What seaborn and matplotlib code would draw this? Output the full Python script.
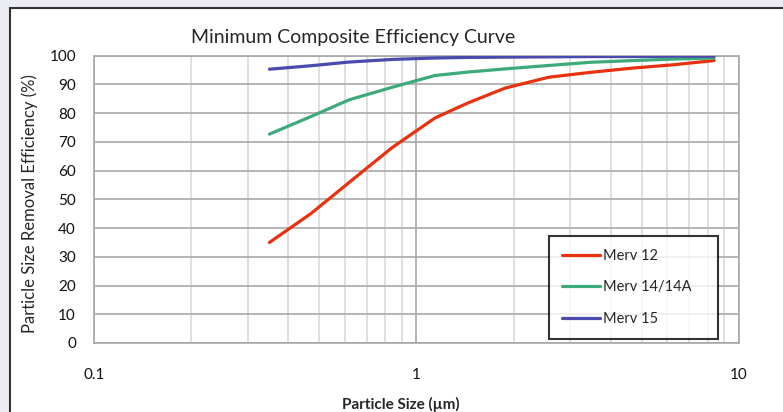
import matplotlib
matplotlib.use("Agg")
import matplotlib.pyplot as plt
import seaborn as sns
import pandas as pd
from matplotlib.patches import Rectangle
from matplotlib.ticker import FixedLocator, NullFormatter

# particle size bins (um) and efficiencies (%)
sizes = [0.35, 0.47, 0.62, 0.84, 1.14, 1.44, 1.88, 2.57, 3.46, 4.69, 6.20, 8.37]
merv12 = [35, 45, 56, 68, 78.3, 83.5, 88.7, 92.5, 94.2, 95.7, 96.8, 98.3]
merv14 = [72.7, 78.8, 84.7, 89, 93.1, 94.3, 95.4, 96.6, 97.7, 98.3, 98.8, 99.2]
merv15 = [95.3, 96.5, 97.8, 98.7, 99.2, 99.4, 99.5, 99.6, 99.7, 99.7, 99.8, 99.8]
series_names = ["Merv 12", "Merv 14/14A", "Merv 15"]
colors = ["#E8310F", "#3DAA7A", "#4A4AAE"]

df = pd.DataFrame({
    "size": sizes * 3,
    "eff": merv12 + merv14 + merv15,
    "series": [series_names[0]] * 12 + [series_names[1]] * 12 + [series_names[2]] * 12,
})

sns.set_style("white")
plt.rcParams["font.family"] = ["Lato", "DejaVu Sans"]

fig = plt.figure(figsize=(7.83, 4.12), dpi=100)
fig.patch.set_facecolor("#EBEBF4")
# white chart area with dark frame
fig.patches.append(Rectangle((10 / 783, -0.05), 1.0, 1 - 8 / 412 + 0.05,
                             transform=fig.transFigure, facecolor="white",
                             edgecolor="#333333", linewidth=1.5, zorder=-5))

ax = fig.add_axes([94 / 783, 1 - 343 / 412, 645 / 783, (343 - 55.7) / 412])
ax.set_facecolor("white")
ax.set_zorder(2)

sns.lineplot(data=df, x="size", y="eff", hue="series", palette=colors,
             linewidth=2.3, ax=ax, zorder=3)

ax.set_xscale("log")
ax.set_xlim(0.1, 10)
ax.set_ylim(0, 100)
ax.set_yticks(range(0, 101, 10))
ax.xaxis.set_major_locator(FixedLocator([0.1, 1, 10]))
ax.xaxis.set_minor_locator(FixedLocator([m * d for d in (0.1, 1) for m in range(2, 10)]))
ax.xaxis.set_minor_formatter(NullFormatter())
ax.set_xticklabels(["0.1", "1", "10"])

ax.grid(True, which="major", axis="y", color="#A8A8A8", linewidth=1.2, zorder=1)
ax.grid(True, which="major", axis="x", color="#A8A8A8", linewidth=1.2, zorder=1)
ax.grid(True, which="minor", axis="x", color="#D9D9D9", linewidth=1.2, zorder=1)
for s in ax.spines.values():
    s.set_color("#A8A8A8")
    s.set_linewidth(1.2)

ax.tick_params(axis="both", which="both", length=0, labelsize=11, colors="#111111")
ax.tick_params(axis="x", pad=18)
ax.tick_params(axis="y", pad=13)

ax.set_xlabel("")
ax.set_ylabel("")
fig.text(401 / 783, 1 - 404 / 412, "Particle Size (\u00b5m)",
         ha="center", va="center", fontsize=11, fontweight="bold")
fig.text(30 / 783, 1 - 204 / 412, "Particle Size Removal Efficiency (%)",
         ha="center", va="center", rotation=90, fontsize=12)
fig.text(353 / 783, 1 - 37 / 412, "Minimum Composite Efficiency Curve",
         ha="center", va="center", fontsize=14)

leg = ax.legend(loc="lower left",
                bbox_to_anchor=((549 - 94) / 645, 4 / 287.3, 169 / 645, 100 / 287.3),
                mode="expand", borderaxespad=0, frameon=True, fancybox=False,
                edgecolor="black", fontsize=10.5, handlelength=2.6,
                handletextpad=0.2, labelspacing=1.2, borderpad=0.9)
leg.get_frame().set_linewidth(1.5)
leg.set_zorder(5)
for h in leg.get_lines():
    h.set_linewidth(2.3)

fig.savefig("out.png", dpi=100)
